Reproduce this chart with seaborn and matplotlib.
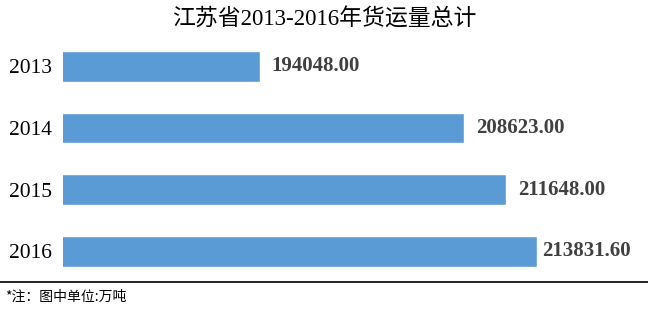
import matplotlib
matplotlib.use("Agg")
import matplotlib.pyplot as plt
import seaborn as sns
import pandas as pd
from matplotlib.lines import Line2D

years = ["2013", "2014", "2015", "2016"]
freight = [194048.00, 208623.00, 211648.00, 213831.60]
value_labels = ["194048.00", "208623.00", "211648.00", "213831.60"]
title = "江苏省2013-2016年货运量总计"
note = "*注：图中单位:万吨"

sns.set_theme(style="white")
plt.rcParams["font.family"] = ["Liberation Serif", "Noto Sans CJK SC"]

df = pd.DataFrame({"year": years, "freight": freight})

fig = plt.figure(figsize=(6.48, 3.19), dpi=100)
ax = fig.add_axes([0.0975, 0.1154, 0.864, 0.7736])

sns.barplot(data=df, x="freight", y="year", orient="h", color="#5B9BD5",
            width=0.5, saturation=1, ax=ax)

ax.set_xlim(180000, 220000)
ax.set_ylim(3.5, -0.5)
ax.set_xlabel("")
ax.set_ylabel("")
ax.set_xticks([])
for s in ax.spines.values():
    s.set_visible(False)
ax.tick_params(axis="y", length=0, pad=8, labelsize=15.5, labelcolor="black")

offsets = [8.6, 8.6, 8.6, 3.6]
for i, (v, lab) in enumerate(zip(freight, value_labels)):
    ax.annotate(lab, xy=(v, i), xytext=(offsets[i], 0), textcoords="offset points",
                ha="left", va="center", fontsize=15, fontweight="bold",
                color="#404040")

fig.text(0.5, 0.94, title, ha="center", va="center", fontsize=16.5, color="black")
fig.add_artist(Line2D([0, 1], [0.117, 0.117], transform=fig.transFigure,
                      color="black", linewidth=1.2))
fig.text(0.008, 0.069, note, ha="left", va="center", fontsize=10,
         color="black", family=["Noto Sans CJK SC", "DejaVu Sans"])

fig.savefig("out.png", dpi=100, facecolor="white")
